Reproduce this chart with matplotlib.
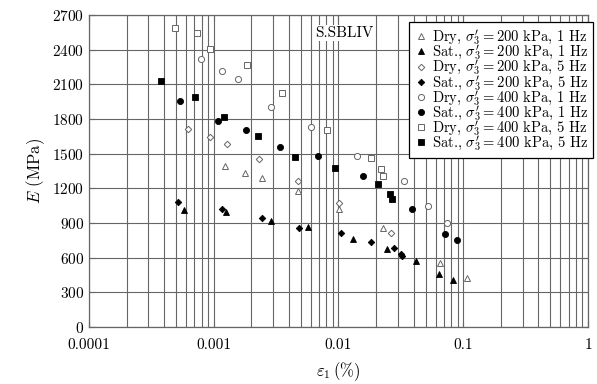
import numpy as np
import matplotlib
matplotlib.use("Agg")
import matplotlib.pyplot as plt
from matplotlib.ticker import LogLocator, NullFormatter

plt.rcParams['font.family'] = 'serif'
plt.rcParams['font.serif'] = ['cmr10', 'DejaVu Serif']
plt.rcParams['mathtext.fontset'] = 'cm'
plt.rcParams['axes.unicode_minus'] = False
plt.rcParams['axes.formatter.use_mathtext'] = True

# strain (%) and modulus (MPa)
dry200_1_x = [1.23e-3, 1.79e-3, 2.44e-3, 4.71e-3, 1.015e-2, 2.29e-2, 6.51e-2, 1.07e-1]
dry200_1_E = [1393, 1332, 1289, 1176, 1021, 857, 558, 424]

sat200_1_x = [5.77e-4, 1.247e-3, 2.86e-3, 5.73e-3, 1.314e-2, 2.47e-2, 4.18e-2, 6.39e-2, 8.28e-2]
sat200_1_E = [1012, 995, 920, 862, 761, 677, 574, 461, 407]

dry200_5_x = [6.18e-4, 9.33e-4, 1.27e-3, 2.32e-3, 4.71e-3, 1.015e-2, 2.64e-2]
dry200_5_E = [1713, 1644, 1583, 1456, 1266, 1075, 813]

sat200_5_x = [5.14e-4, 1.171e-3, 2.45e-3, 4.85e-3, 1.047e-2, 1.822e-2, 2.76e-2, 3.17e-2, 3.23e-2]
sat200_5_E = [1081, 1023, 945, 859, 813, 735, 686, 637, 614]

dry400_1_x = [7.95e-4, 1.165e-3, 1.556e-3, 2.88e-3, 6.05e-3, 1.399e-2, 3.35e-2, 5.19e-2, 7.45e-2]
dry400_1_E = [2316, 2212, 2143, 1903, 1730, 1484, 1263, 1047, 902]

sat400_1_x = [5.36e-4, 1.088e-3, 1.814e-3, 3.42e-3, 6.85e-3, 1.563e-2, 3.91e-2, 7.18e-2, 8.91e-2]
sat400_1_E = [1952, 1782, 1707, 1557, 1482, 1306, 1023, 802, 753]

dry400_5_x = [4.89e-4, 7.38e-4, 9.38e-4, 1.838e-3, 3.54e-3, 8.13e-3, 1.822e-2, 2.171e-2, 2.262e-2]
dry400_5_E = [2584, 2546, 2405, 2264, 2024, 1707, 1466, 1369, 1311]

sat400_5_x = [3.78e-4, 7.07e-4, 1.215e-3, 2.25e-3, 4.51e-3, 9.32e-3, 2.054e-2, 2.61e-2, 2.66e-2]
sat400_5_E = [2125, 1990, 1819, 1650, 1473, 1373, 1237, 1148, 1107]

xticks = [1e-4, 1e-3, 1e-2, 1e-1, 1]
xticklabels = ["0.0001", "0.001", "0.01", "0.1", "1"]
yticks = list(range(0, 2701, 300))

series = [
    (dry200_1_x, dry200_1_E, '^', False, r"Dry, $\sigma_3'=200$ kPa, 1 Hz"),
    (sat200_1_x, sat200_1_E, '^', True, r"Sat., $\sigma_3'=200$ kPa, 1 Hz"),
    (dry200_5_x, dry200_5_E, 'D', False, r"Dry, $\sigma_3'=200$ kPa, 5 Hz"),
    (sat200_5_x, sat200_5_E, 'D', True, r"Sat., $\sigma_3'=200$ kPa, 5 Hz"),
    (dry400_1_x, dry400_1_E, 'o', False, r"Dry, $\sigma_3'=400$ kPa, 1 Hz"),
    (sat400_1_x, sat400_1_E, 'o', True, r"Sat., $\sigma_3'=400$ kPa, 1 Hz"),
    (dry400_5_x, dry400_5_E, 's', False, r"Dry, $\sigma_3'=400$ kPa, 5 Hz"),
    (sat400_5_x, sat400_5_E, 's', True, r"Sat., $\sigma_3'=400$ kPa, 5 Hz"),
]
sizes = {'^': 4.6, 'D': 3.3, 'o': 4.4, 's': 4.8}

fig = plt.figure(figsize=(5.97, 3.84), dpi=100)
ax = fig.add_axes([0.149, 0.148, 0.836, 0.813])

for x, E, m, filled, lab in series:
    ms = sizes[m]
    if filled:
        ax.plot(x, E, ls='none', marker=m, ms=ms, mfc='black', mec='black',
                mew=0.6, label=lab, zorder=3)
    else:
        ax.plot(x, E, ls='none', marker=m, ms=ms, mfc='white', mec='0.4',
                mew=0.7, label=lab, zorder=3)

ax.set_xscale('log')
ax.set_xlim(1e-4, 1)
ax.set_ylim(0, 2700)
ax.set_xticks(xticks)
ax.set_xticklabels(xticklabels)
ax.xaxis.set_minor_locator(LogLocator(base=10, subs=np.arange(2, 10)))
ax.xaxis.set_minor_formatter(NullFormatter())
ax.set_yticks(yticks)

ax.grid(True, which='both', axis='x', color='0.4', lw=0.8)
ax.grid(True, which='major', axis='y', color='0.4', lw=0.8)
ax.set_axisbelow(True)
for s in ax.spines.values():
    s.set_color('0.4')
    s.set_linewidth(0.9)
ax.tick_params(axis='both', which='major', labelsize=11, direction='in',
               length=4, color='0.4', top=True, right=True)
ax.tick_params(axis='x', which='major', pad=8)
ax.tick_params(axis='x', which='minor', direction='in', length=2.5,
               color='0.4', top=True)

ax.set_xlabel(r"$\varepsilon_1\,(\%)$", fontsize=12, labelpad=6)
ax.set_ylabel(r"$E$ (MPa)", fontsize=12, labelpad=4)

ax.text(0.511, 0.942, "S.SBLIV", transform=ax.transAxes, fontsize=11,
        ha='center', va='center',
        bbox=dict(facecolor='white', edgecolor='none', pad=1.0), zorder=4)

leg = ax.legend(loc='upper right', bbox_to_anchor=(1.01, 0.976), fontsize=10.5,
                frameon=True, fancybox=False, framealpha=1, edgecolor='black',
                labelspacing=-0.3, handletextpad=0.2, handlelength=1.0,
                borderpad=0.35, borderaxespad=0.0)
leg.get_frame().set_linewidth(0.9)
leg.set_zorder(5)

fig.savefig("out.png", dpi=100)
